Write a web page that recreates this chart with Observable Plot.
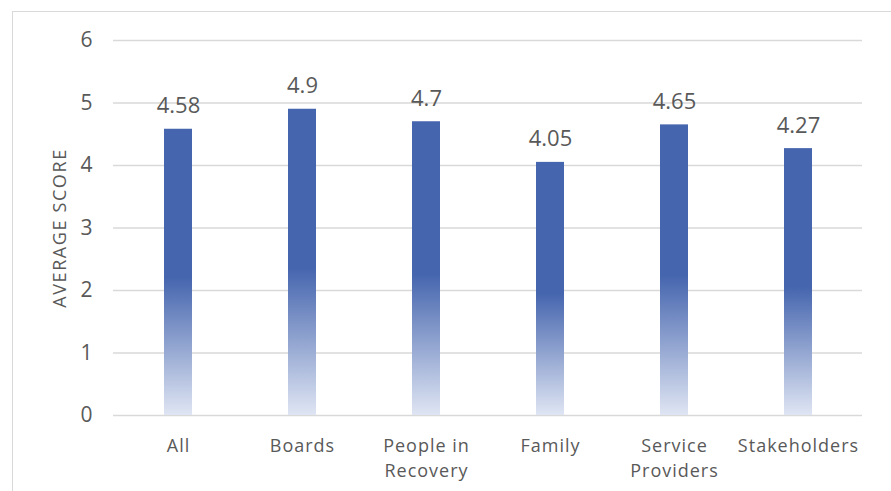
<!DOCTYPE html>
<html>
<head>
<meta charset="utf-8">
<script src="https://cdn.jsdelivr.net/npm/d3@7"></script>
<script src="https://cdn.jsdelivr.net/npm/@observablehq/plot@0.6"></script>
<style>
  html, body { margin: 0; padding: 0; background: #fff; overflow: hidden; }
  #wrap { position: relative; width: 891px; height: 491px; }
  #frame { position: absolute; left: 12px; top: 11px; width: 900px; height: 500px; border: 1.5px solid #d9d9d9; box-sizing: border-box; }
  #chart { position: absolute; left: 0; top: 0; }
  #chart g[aria-label="x-axis tick label"] text { letter-spacing: 1px; }
</style>
</head>
<body>
<div id="wrap"><div id="frame"></div><div id="chart"></div></div>
<script>
const categories = ["All", "Boards", "People in\nRecovery", "Family", "Service\nProviders", "Stakeholders"];
const scores = [4.58, 4.9, 4.7, 4.05, 4.65, 4.27];
const yTicks = [0, 1, 2, 3, 4, 5, 6];
const yTitle = "AVERAGE SCORE";

const data = categories.map((c, i) => ({category: c, score: scores[i]}));
const fontFamily = "'Open Sans', Lato, sans-serif";
const textColor = "#595959";

const defs = () => {
  const d = d3.create("svg:defs");
  const g = d.append("linearGradient").attr("id", "barGrad")
    .attr("x1", 0).attr("y1", 0).attr("x2", 0).attr("y2", 1);
  g.append("stop").attr("offset", "0").attr("stop-color", "#4565ae");
  g.append("stop").attr("offset", "0.52").attr("stop-color", "#4565ae");
  g.append("stop").attr("offset", "1").attr("stop-color", "#dfe5f3");
  return d.node();
};

const chart = Plot.plot({
  width: 891,
  height: 491,
  marginLeft: 113,
  marginRight: 29,
  marginTop: 40,
  marginBottom: 76,
  style: {fontFamily, fontSize: "18px", color: textColor, background: "transparent"},
  x: {domain: categories, paddingInner: 0.776, paddingOuter: 0.388, label: null},
  y: {domain: [0, 6], label: null},
  marks: [
    defs,
    Plot.ruleY(yTicks, {stroke: "#d9d9d9", strokeWidth: 1.5, strokeOpacity: 1}),
    Plot.barY(data, {x: "category", y: "score", fill: "url(#barGrad)"}),
    Plot.text(data, {x: "category", y: "score", text: d => String(d.score), lineAnchor: "bottom", dy: -16, fontSize: 22, fill: textColor}),
    Plot.axisY({ticks: yTicks, tickFormat: d3.format("d"), tickSize: 0, tickPadding: 21, fontSize: 21, label: null, fill: textColor}),
    Plot.axisX({tickSize: 0, tickPadding: 19, fontSize: 18, lineHeight: 1.39, label: null, fill: textColor}),
    Plot.text([yTitle], {frameAnchor: "left", dx: -53, rotate: -90, textAnchor: "middle", fontSize: 18, fill: textColor})
  ]
});
d3.select(chart).selectAll("text").filter(function() { return this.textContent === yTitle; })
  .style("letter-spacing", "1.6px");
document.getElementById("chart").append(chart);
</script>
</body>
</html>
